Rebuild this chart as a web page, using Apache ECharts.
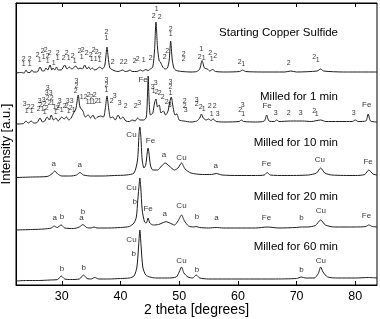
<!DOCTYPE html>
<html><head><meta charset="utf-8">
<script src="https://cdn.jsdelivr.net/npm/echarts@6/dist/echarts.min.js"></script>
<style>html,body{margin:0;padding:0;background:#fff}#c{width:380px;height:319px}</style>
</head><body><div id="c"></div>
<script>
// x tick labels (2 theta, degrees)
const xTicks = [30, 40, 50, 60, 70, 80];
// pattern names
const patternNames = ["Starting Copper Sulfide", "Milled for 1 min", "Milled for 10 min", "Milled for 20 min", "Milled for 60 min"];
// stacked intensity traces [2theta, intensity a.u.]
const startingSulfide = [[22.2,212],[23.0,212.5],[23.6,212],[23.9,215],[24.2,212.5],[24.6,212.5],[24.9,215],[25.2,213],[25.8,213],[26.3,218],[26.7,214],[27.0,214],[27.3,217],[27.6,215],[28.0,220],[28.3,215],[28.5,217],[28.8,215],[29.1,218],[29.4,215],[29.9,215],[30.5,220],[30.9,216],[31.3,218],[31.7,216],[32.4,219],[32.8,216],[33.1,217],[33.5,216],[33.9,220],[34.3,216],[34.6,218],[34.9,215.5],[35.2,217],[35.6,215],[36.0,216],[36.5,218],[36.9,216],[37.3,219],[37.5,228],[37.7,238],[37.9,228],[38.2,217],[38.7,215],[39.1,214],[39.6,213.5],[40.4,215],[40.8,213.5],[41.3,214],[41.6,215],[42.0,213.5],[42.8,213.5],[43.4,215],[43.8,214],[44.3,215.5],[44.7,214.5],[45.1,216],[45.5,218],[45.8,235],[46.05,263],[46.3,238],[46.6,224],[46.8,223],[47.2,218],[47.6,216],[48.0,217],[48.3,225],[48.55,244],[48.8,226],[49.1,217],[49.5,214.5],[50.5,213.5],[52,213],[53.0,213.5],[53.5,216],[53.9,224.5],[54.3,217],[54.8,216],[55.2,214],[55.7,215.5],[56.2,213.5],[58,213],[60.3,213.5],[60.8,215],[61.3,213.5],[64,213],[68,213],[69.0,214],[70,213],[73.5,214],[74.1,216],[74.6,214],[78,213],[83.7,213]];
const milled1 = [[22.2,161],[23.5,161.5],[23.9,164],[24.3,162],[24.8,164],[25.2,162],[25.8,162.5],[26.3,167],[26.7,163],[27.1,164],[27.5,168],[27.9,165],[28.2,170],[28.6,165],[29.0,167],[29.4,164],[30.0,168],[30.4,166],[30.8,168],[31.2,165],[31.6,167],[32.0,172],[32.4,176],[32.8,190],[33.1,178],[33.6,174],[34.0,168],[34.5,170],[34.9,167],[35.3,170],[35.7,166],[36.1,168],[36.6,169],[37.1,168],[37.4,176],[37.7,189],[38.0,176],[38.3,167],[38.7,168],[39.1,165],[39.6,170],[40.0,166],[40.4,168],[40.9,164],[41.5,163.5],[42.0,165],[42.5,164],[42.9,167],[43.3,165],[44.0,165],[44.4,168],[44.6,190],[44.72,209],[44.85,188],[45.1,170],[45.5,172],[45.8,182],[46.05,186],[46.3,178],[46.6,180],[46.9,172],[47.3,174],[47.7,170],[48.1,174],[48.4,183],[48.65,188],[48.9,180],[49.3,170],[49.6,171],[50.0,165],[50.8,164],[52,163],[53.0,164],[53.5,167],[53.8,171],[54.1,167],[54.6,165],[55.0,166],[55.4,164.5],[55.8,166],[56.3,163.5],[58,163],[60.2,163.5],[60.6,165],[61.0,163.5],[63,163],[64.5,164],[64.9,170],[65.3,164],[66.2,163.5],[66.6,165],[67.0,163.5],[69.0,164],[71.0,164],[72.5,163.5],[74.1,165],[75,163.5],[79.5,163.5],[80.0,165],[80.5,163.5],[81.8,164],[82.2,171],[82.6,164],[83.7,163]];
const milled10 = [[22.2,107.5],[25,108],[27.5,108.5],[28.3,111],[28.8,114],[29.3,111],[30,109],[31.5,109],[32.5,110],[33.1,112.5],[33.7,110],[35,109],[37,109],[39,109.5],[41,110],[42.3,112],[42.9,125],[43.15,150],[43.3,158],[43.45,150],[43.7,125],[44.0,117],[44.3,120],[44.55,132],[44.7,137],[44.85,132],[45.1,120],[45.5,115],[46.3,115],[47.0,119],[47.6,122],[48.3,119],[49.2,115],[49.8,117],[50.4,122],[51.0,116],[52,112],[54,110.5],[55.5,110.5],[56.3,111.5],[57.3,110],[60,109.5],[63,109.5],[64.5,110],[65.0,112.5],[65.5,110],[68,109.5],[72,110],[73.4,112],[74.1,117],[74.8,112],[76,110],[80,109.5],[81.6,110.5],[82.3,115],[83.0,111],[83.7,110]];
const milled20 = [[22.2,55],[25,55.5],[27,56],[28.2,57],[28.7,59],[29.2,57.5],[29.9,60],[30.5,57],[32,56.5],[33.0,58],[33.6,60.5],[34.2,57.5],[35.0,57],[35.5,58],[36,57],[38,57],[40,57.5],[41.5,58.5],[42.3,62],[42.7,68],[42.95,85],[43.2,102],[43.3,107],[43.45,98],[43.7,75],[44.1,63],[44.4,62],[44.7,67],[45.0,62],[45.6,60],[46.5,60.5],[47.3,62.5],[47.8,63.3],[48.4,62],[49.2,60],[49.8,64],[50.4,70],[50.9,64],[51.6,59],[52.4,58],[52.9,58.5],[53.5,57.5],[55,57],[56.3,57.5],[57.5,57],[60,57],[63,57],[65,58],[67,57],[70,57.5],[70.8,58],[71.8,58],[73.2,59.5],[74.1,65],[74.9,60],[76.5,58],[80,58],[81.8,58.5],[82.3,60],[82.9,58.5],[83.7,58]];
const milled60 = [[22.2,4],[24,4.5],[26,4.5],[28,5],[29.3,5.5],[29.9,9],[30.5,6],[31.5,5.5],[33,6],[33.7,10],[34.3,6.5],[35,6],[35.6,7.5],[36.3,6],[38,6],[40,6.5],[41.5,7],[42.3,9],[42.8,18],[43.1,40],[43.3,55],[43.5,40],[43.8,18],[44.3,10],[45,8],[46,7],[48,7],[49.5,8],[50.0,13],[50.4,18],[50.8,12],[51.5,8],[52.3,7],[52.9,10],[53.5,7],[55,6],[58,6],[62,6],[66,6],[70,6.5],[70.8,8],[71.5,7],[73,7],[73.7,11.5],[74.1,18],[74.5,13],[75.3,8],[77,7],[80,7],[82.3,7.5],[83.7,7]];
// phase index labels [2theta, intensity, text]
const phaseDigits = [
[23.53,226,'2'],[23.53,221,'1'],[24.55,226,'2'],[24.55,221,'1'],[25.91,230,'2'],[26.25,225,'1'],[26.76,234,'2'],[27.27,235,'2'],[26.93,228,'1'],[27.61,229,'2'],[27.96,232,'2'],[27.61,224,'1'],[28.64,222,'1'],[29.32,232,'2'],[29.32,227,'1'],[30.34,227,'2'],[30.85,232,'2'],[31.19,227,'1'],[31.87,229,'2'],[32.21,224,'1'],[33.07,234,'2'],[33.58,235,'2'],[33.41,228,'1'],[34.26,232,'2'],[34.94,230,'2'],[35.45,235,'2'],[35.96,233,'2'],[36.47,230,'2'],[35.11,226,'1'],[35.79,226,'1'],[36.47,225,'1'],[37.61,253,'2'],[37.61,247,'1'],[38.69,223,'2'],[40.22,223,'2'],[40.90,223,'2'],[42.44,224,'2'],[42.95,226,'2'],[43.97,225,'1'],[45.16,227,'2'],[46.18,276,'1'],[45.67,269,'2'],[46.70,268,'2'],[47.97,234,'2'],[47.55,228,'2'],[48.57,256,'2'],[48.57,251,'1'],[50.78,231,'2'],[50.78,226,'2'],[53.76,236,'1'],[53.51,228,'2'],[54.19,226.5,'1'],[55.30,232,'2'],[55.55,226,'1'],[56.15,229,'2'],[60.32,223,'2'],[60.92,221,'1'],[68.67,222,'2'],[73.02,228,'2'],[73.61,225,'1'],
[23.70,181,'3'],[24.38,178,'2'],[25.06,178,'2'],[24.04,174,'1'],[24.89,174,'1'],[26.25,184,'3'],[26.93,185,'3'],[26.42,180,'2'],[27.10,181,'2'],[26.08,176,'2'],[26.76,176,'1'],[27.44,177,'2'],[27.10,173,'1'],[27.61,197,'3'],[27.44,192,'3'],[28.13,192,'3'],[27.61,187,'2'],[28.30,187,'2'],[27.96,182,'2'],[28.47,182,'1'],[28.81,178,'1'],[29.32,177,'2'],[28.98,173,'1'],[29.66,184,'3'],[29.49,179,'2'],[30.0,175,'1'],[30.51,179,'2'],[31.02,184,'3'],[31.70,184,'3'],[30.85,179,'2'],[31.53,177,'2'],[31.19,174,'1'],[32.04,175,'1'],[32.50,204,'3'],[32.50,199,'2'],[32.39,194,'2'],[33.41,188,'1'],[34.09,188,'2'],[34.60,190,'2'],[35.11,188,'2'],[35.62,190,'2'],[34.43,183,'1'],[34.94,183,'1'],[35.45,183,'1'],[35.96,184,'2'],[36.47,184,'1'],[37.61,205,'3'],[37.61,200,'2'],[37.61,195,'1'],[38.52,184,'2'],[39.03,189,'3'],[39.88,182,'3'],[40.90,179,'2'],[42.61,179,'2'],[43.20,182,'3'],[46.01,202,'3'],[45.50,198,'3'],[45.67,194,'1'],[46.18,193,'2'],[46.70,192,'2'],[47.21,188,'2'],[48.52,203,'3'],[48.52,198,'2'],[48.52,192,'1'],[47.89,183,'2'],[48.40,180,'3'],[50.95,184,'2'],[50.95,179,'2'],[51.12,175,'3'],[53.0,185,'3'],[53.0,181,'2'],[53.68,178,'2'],[54.19,176,'1'],[55.21,178.5,'2'],[56.06,178.5,'2'],[55.55,171,'1'],[56.58,171,'3'],[60.83,180,'3'],[60.41,174.5,'2'],[60.92,171,'1'],[66.45,172,'3'],[68.67,172,'2'],[70.71,172,'3'],[73.02,174,'2'],[73.44,170.5,'1'],[79.74,172,'3']
];
// element / phase letter labels [2theta, intensity, text]
const phaseNames = [
[43.85,205,'Fe'],[64.97,179,'Fe'],[81.96,180,'Fe'],
[41.87,150,'Cu'],[45.1,144,'Fe'],[47.43,130,'a'],[50.39,127.7,'Cu'],[28.64,121.7,'a'],[33.07,120.7,'a'],[56.23,119,'a'],[64.87,121.7,'Fe'],[73.95,125.7,'Cu'],[82.18,123.3,'Fe'],
[41.87,97.7,'Cu'],[42.44,83.3,'b'],[44.70,76.7,'Fe'],[47.55,71.7,'a'],[50.39,79,'Cu'],[28.81,67.3,'a'],[30.05,68.3,'b'],[33.63,73.3,'b'],[33.36,67.7,'a'],[53.05,68.3,'b'],[56.35,67.7,'a'],[64.87,67,'Fe'],[70.83,67,'b'],[74.12,74.3,'Cu'],[81.91,69,'Fe'],
[41.87,45.7,'Cu'],[42.27,31.7,'b'],[50.39,24,'Cu'],[30.05,16,'b'],[33.75,17.7,'b'],[53.05,15,'b'],[70.83,15,'b'],[74.12,23.8,'Cu']
];

const FONT = 'Liberation Sans, Arial, Helvetica, sans-serif';
const chart = echarts.init(document.getElementById('c'), null, {renderer: 'canvas'});
const traces = [startingSulfide, milled1, milled10, milled20, milled60];
const lineSeries = traces.map(d => ({
  type: 'line', data: d, showSymbol: false, smooth: 0.25, animation: false,
  lineStyle: {color: '#1c1c1c', width: 1}, silent: true, z: 3
}));
function labelSeries(d, size) {
  return {
    type: 'scatter', data: d, symbolSize: 1, itemStyle: {color: 'rgba(0,0,0,0)'},
    silent: true, animation: false, z: 4,
    label: {show: true, position: 'inside', formatter: p => p.value[2], fontSize: size,
      color: '#000', fontFamily: FONT, align: 'center', verticalAlign: 'middle'}
  };
}
const titleY = [33, 97, 143, 197, 247];
chart.setOption({
  animation: false,
  grid: {left: 16, right: 3, top: 3, bottom: 34, containLabel: false, outerBoundsMode: 'none',
    show: true, borderColor: '#000', borderWidth: 1},
  xAxis: [{
    type: 'value', min: 22.2, max: 83.7, position: 'bottom',
    axisLine: {show: true, lineStyle: {color: '#000', width: 1}},
    axisTick: {show: true, inside: true, length: 4, customValues: xTicks, lineStyle: {color: '#000'}},
    axisLabel: {show: true, customValues: xTicks, color: '#000', fontSize: 12.5, fontFamily: FONT, margin: 5},
    splitLine: {show: false},
    name: '2 theta [degrees]', nameLocation: 'middle', nameGap: 18, nameMoveOverlap: false,
    nameTextStyle: {color: '#000', fontSize: 14, fontFamily: FONT}
  }, {
    type: 'value', min: 22.2, max: 83.7, position: 'top',
    axisLine: {show: true, lineStyle: {color: '#000', width: 1}},
    axisTick: {show: true, inside: true, length: 4, customValues: xTicks, lineStyle: {color: '#000'}},
    axisLabel: {show: false}, splitLine: {show: false}
  }],
  yAxis: {
    type: 'value', min: 0, max: 282,
    axisLine: {show: true, lineStyle: {color: '#000'}}, axisTick: {show: false},
    axisLabel: {show: false}, splitLine: {show: false},
    name: 'Intensity [a.u.]', nameLocation: 'middle', nameGap: 3, nameRotate: 90,
    nameTextStyle: {color: '#000', fontSize: 13, fontFamily: FONT, verticalAlign: 'bottom'}
  },
  graphic: patternNames.map((t, i) => ({
    type: 'text', x: 338, y: titleY[i], silent: true,
    style: {text: t, fill: '#000', fontSize: 11.5, fontFamily: FONT, align: 'right', verticalAlign: 'middle'}
  })),
  series: [...lineSeries, labelSeries(phaseDigits, 7), labelSeries(phaseNames, 8)]
});
</script></body></html>
